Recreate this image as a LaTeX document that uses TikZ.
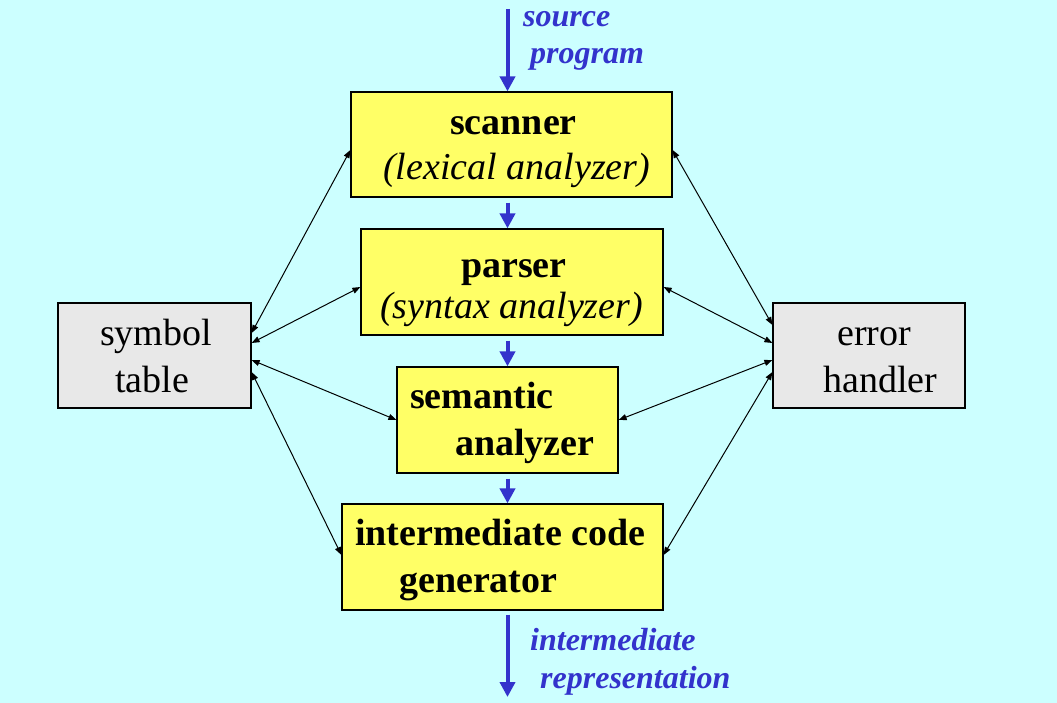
\documentclass[tikz,border=0pt]{standalone}
\usepackage{fontspec}
\setmainfont{Liberation Serif}
\usetikzlibrary{arrows.meta,calc}
\definecolor{bgc}{HTML}{CCFFFF}
\definecolor{boxy}{HTML}{FFFF66}
\definecolor{boxg}{HTML}{E8E8E8}
\definecolor{flow}{HTML}{3333CC}
\begin{document}
\begin{tikzpicture}[x=1pt,y=-1pt,
  phase/.style={draw=black,line width=1.2pt,fill=boxy,inner sep=0pt},
  aux/.style={draw=black,line width=1.2pt,fill=boxg,inner sep=0pt},
  txt/.style={anchor=base west,inner sep=0pt,font=\fontsize{38}{46}\selectfont},
  btxt/.style={txt,font=\fontsize{38}{46}\selectfont\bfseries},
  itxt/.style={txt,font=\fontsize{38}{46}\selectfont\itshape},
  ftxt/.style={txt,text=flow,font=\fontsize{32}{38}\selectfont\bfseries\itshape},
  flowarrow/.style={draw=flow,line width=4pt,-{Triangle[length=15pt,width=15pt]}},
  link/.style={draw=black,line width=1pt,{Triangle[length=8pt,width=6pt]}-{Triangle[length=8pt,width=6pt]}}]
\useasboundingbox (0,0) rectangle (1057,703);
\fill[bgc] (0,0) rectangle (1057,703);
% boxes
\node[phase,minimum width=321pt,minimum height=105pt] (scan) at (511.5,144.5) {};
\node[phase,minimum width=302pt,minimum height=106pt] (pars) at (512,282) {};
\node[phase,minimum width=221pt,minimum height=106pt] (sem) at (507.5,420) {};
\node[phase,minimum width=321pt,minimum height=106pt] (icg) at (502.5,557) {};
\node[aux,minimum width=193pt,minimum height=105pt] (sym) at (154.5,355.5) {};
\node[aux,minimum width=192pt,minimum height=105pt] (err) at (869,355.5) {};
% texts
\node[btxt] (t1) at (450,135) {scanner};
\node[itxt] (t2) at (383,180) {(lexical analyzer)};
\node[btxt] (t3) at (461,278) {parser};
\node[itxt] (t4) at (380,318) {(syntax analyzer)};
\node[btxt] (t5) at (410,408) {semantic};
\node[btxt] (t6) at (455,455) {analyzer};
\node[btxt] (t7) at (355,545) {intermediate code};
\node[btxt] (t8) at (399,592) {generator};
\node[txt] (t9) at (100,345) {symbol};
\node[txt] (t10) at (115,392) {table};
\node[txt] (t11) at (837,345) {error};
\node[txt] (t12) at (823,392) {handler};
\node[ftxt] (t13) at (523,27) {source};
\node[ftxt] (t14) at (530,64) {program};
\node[ftxt] (t15) at (530,650) {intermediate};
\node[ftxt] (t16) at (540,688) {representation};
% flow arrows
\coordinate (col) at (507.5,0);
\coordinate (srcin) at (507.5,9);
\coordinate (irout) at (507.5,697);
\draw[flowarrow] (srcin) -- (scan.north -| col);
\draw[flowarrow] ($(scan.south -| col)+(0,5)$) -- (pars.north -| col);
\draw[flowarrow] ($(pars.south -| col)+(0,5)$) -- (sem.north -| col);
\draw[flowarrow] ($(sem.south -| col)+(0,5)$) -- (icg.north -| col);
\draw[flowarrow] ($(icg.south -| col)+(0,4)$) -- (irout);
% links to symbol table
\draw[link] ($(sym.east)+(0,-22.5)$) -- ($(scan.west)+(0,5.5)$);
\draw[link] ($(sym.east)+(0,-12.5)$) -- ($(pars.west)+(0,5)$);
\draw[link] ($(sym.east)+(0,4.5)$) -- (sem.west);
\draw[link] ($(sym.east)+(0,16.5)$) -- ($(icg.west)+(0,-2)$);
% links to error handler
\draw[link] ($(err.west)+(0,-30.5)$) -- ($(scan.east)+(0,5.5)$);
\draw[link] ($(err.west)+(0,-12.5)$) -- ($(pars.east)+(0,5)$);
\draw[link] ($(err.west)+(0,4.5)$) -- (sem.east);
\draw[link] ($(err.west)+(0,16.5)$) -- ($(icg.east)+(0,-2)$);
\end{tikzpicture}
\end{document}
